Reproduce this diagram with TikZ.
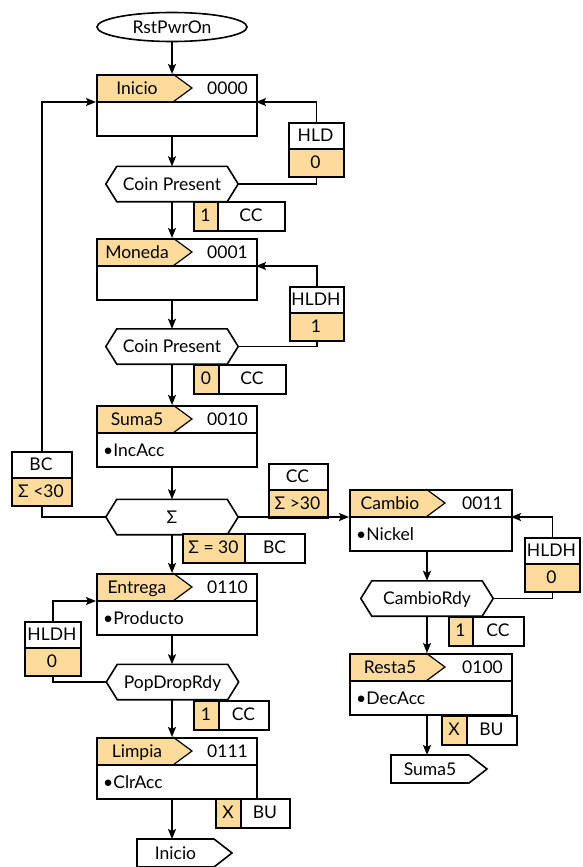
\documentclass[tikz,border=0pt]{standalone}
\usepackage{fontspec}
\setmainfont{Lato}
\usetikzlibrary{arrows.meta,calc,shapes.geometric}
\definecolor{org}{RGB}{253,219,155}
\tikzset{
  bx/.style={draw, line width=1.6pt, inner sep=0pt},
  bxl/.style={line width=1.6pt, line join=miter},
  ln/.style={line width=1.5pt},
  arr/.style={ln, -{Stealth[length=10pt,width=8pt,inset=2pt]}},
  txt/.style={font=\fontsize{17.5}{20}\selectfont, inner sep=0pt, text height=12.4pt, text depth=0pt},
}
\newcommand\mystate[7]{%
  \fill[org] (#2,#3) -- (#2+77,#3) -- (#2+96,#3+14) -- (#2+77,#3+28) -- (#2,#3+28) -- cycle;
  \draw[line width=1.2pt] (#2+77,#3) -- (#2+96,#3+14) -- (#2+77,#3+28);
  \node[bx, minimum width=#4pt, minimum height=61pt, anchor=north west] (#1) at (#2,#3) {};
  \coordinate (#1-hl) at (#2,#3+28);
  \coordinate (#1-hr) at (#2+#4,#3+28);
  \draw[bxl] (#1-hl) -- (#1-hr);
  \node[txt] at (#2+41,#3+14.5) {#5};
  \node[txt, anchor=east] at (#2+#4-8,#3+14.5) {#6};
  \node[txt, anchor=west] at (#2+7,#3+45) {#7};
}
\newcommand\mylabv[6]{%
  \fill[org] (#2,#3+27) rectangle (#2+#4,#3+54);
  \node[bx, minimum width=#4pt, minimum height=54pt, anchor=north west] (#1) at (#2,#3) {};
  \draw[bxl] (#2,#3+27) -- (#2+#4,#3+27);
  \node[txt] at (#2+#4/2,#3+13.5) {#5};
  \node[txt] at (#2+#4/2,#3+40.5) {#6};
}
\newcommand\mylabh[7]{%
  \fill[org] (#2,#3) rectangle (#2+#4,#3+29);
  \node[bx, minimum width={(#4+#5)*1pt}, minimum height=29pt, anchor=north west] (#1) at (#2,#3) {};
  \draw[bxl] (#2+#4,#3) -- (#2+#4,#3+29);
  \node[txt] at (#2+#4/2,#3+14.5) {#6};
  \node[txt] at (#2+#4+#5/2,#3+14.5) {#7};
}
\newcommand\myhex[4]{%
  \node[minimum width=132pt, minimum height=35pt, inner sep=0pt] (#1) at (#2,#3) {};
  \draw[bxl] (#1.west) -- ($(#1.north west)+(11,0)$) -- ($(#1.north east)+(-11,0)$) -- (#1.east) -- ($(#1.south east)+(-11,0)$) -- ($(#1.south west)+(11,0)$) -- cycle;
  \node[txt] at (#1) {#4};
}
\newcommand\mypent[5]{%
  \node[minimum width={(#4+18)*1pt}, minimum height=28pt, inner sep=0pt, anchor=north west] (#1) at (#2,#3) {};
  \draw[bxl] (#2,#3) -- (#2+#4,#3) -- (#2+#4+18,#3+14) -- (#2+#4,#3+28) -- (#2,#3+28) -- cycle;
  \node[txt] at (#2+#4/2,#3+14) {#5};
}
\begin{document}
\begin{tikzpicture}[x=1pt,y=-1pt]
\fill[white] (0,0) rectangle (582,867);
\useasboundingbox (0,0) rectangle (582,867);
\coordinate (cL) at (172,0);
\coordinate (cR) at (427,0);

% start
\node[bx, ellipse, minimum width=150pt, minimum height=29pt, txt] (rst) at (172,27) {RstPwrOn};

% states
\mystate{s0}{96}{74}{160}{Inicio}{0000}{}
\mystate{s1}{96}{238}{160}{Moneda}{0001}{}
\mystate{s2}{96}{405}{160}{Suma5}{0010}{•IncAcc}
\mystate{s3}{349}{489}{162}{Cambio}{0011}{•Nickel}
\mystate{s6}{96}{573}{160}{Entrega}{0110}{•Producto}
\mystate{s4}{349}{653}{162}{Resta5}{0100}{•DecAcc}
\mystate{s7}{96}{737}{160}{Limpia}{0111}{•ClrAcc}

% decisions
\myhex{cp1}{172}{184}{Coin Present}
\myhex{cp2}{172}{346.5}{Coin Present}
\myhex{sg}{172}{517}{Σ}
\myhex{pdr}{172.5}{682}{PopDropRdy}
\myhex{crdy}{427}{598.5}{CambioRdy}

% end connectors
\mypent{ini}{137}{839}{77}{Inicio}
\mypent{sm5}{391}{755}{78}{Suma5}

% label boxes
\mylabv{hld0}{288}{122}{55}{HLD}{0}
\mylabv{hldh1}{289}{286}{54}{HLDH}{1}
\mylabv{bc}{11}{451}{60}{BC}{Σ <30}
\mylabv{ccs}{268}{463}{59}{CC}{Σ >30}
\mylabv{hldh0r}{524}{537}{55}{HLDH}{0}
\mylabv{hldh0l}{24}{621}{56}{HLDH}{0}

\mylabh{l1}{193}{201}{25}{66}{1}{CC}
\mylabh{l2}{193}{364}{26}{66}{0}{CC}
\mylabh{l3}{182}{533}{63}{59}{Σ = 30}{BC}
\mylabh{l4}{193}{700}{26}{49}{1}{CC}
\mylabh{l5}{448}{616}{25}{50}{1}{CC}
\mylabh{l6}{215}{798}{26}{48}{X}{BU}
\mylabh{l7}{441}{715}{26}{49}{X}{BU}

% main column
\draw[arr] (rst.south) -- (s0.north -| cL);
\draw[arr] (s0.south -| cL) -- (cp1.north -| cL);
\draw[arr] (cp1.south -| cL) -- (s1.north -| cL);
\draw[arr] (s1.south -| cL) -- (cp2.north -| cL);
\draw[arr] (cp2.south -| cL) -- (s2.north -| cL);
\draw[arr] (s2.south -| cL) -- (sg.north -| cL);
\draw[arr] (sg.south -| cL) -- (s6.north -| cL);
\draw[arr] (s6.south -| cL) -- (pdr.north -| cL);
\draw[arr] (pdr.south -| cL) -- (s7.north -| cL);
\draw[arr] (s7.south -| cL) -- (ini.north -| cL);

% right column
\draw[arr] (s3.south -| cR) -- (crdy.north -| cR);
\draw[arr] (crdy.south -| cR) -- (s4.north -| cR);
\draw[arr] (s4.south -| cR) -- (sm5.north -| cR);

% loops
\draw[ln] (cp1.east) -| (hld0.south);
\draw[arr] (hld0.north) |- (s0-hr);
\draw[ln] (cp2.east) -| (hldh1.south);
\draw[arr] (hldh1.north) |- (s1-hr);
\draw[ln] (sg.west) -| (bc.south);
\draw[arr] (bc.north) |- (s0-hl);
\draw[arr] (sg.east) -- (s3-hl);
\draw[ln] (pdr.west) -| (hldh0l.south);
\draw[arr] (hldh0l.north) |- (s6-hl);
\draw[ln] (crdy.east) -| (hldh0r.south);
\draw[arr] (hldh0r.north) |- (s3-hr);
\end{tikzpicture}
\end{document}
